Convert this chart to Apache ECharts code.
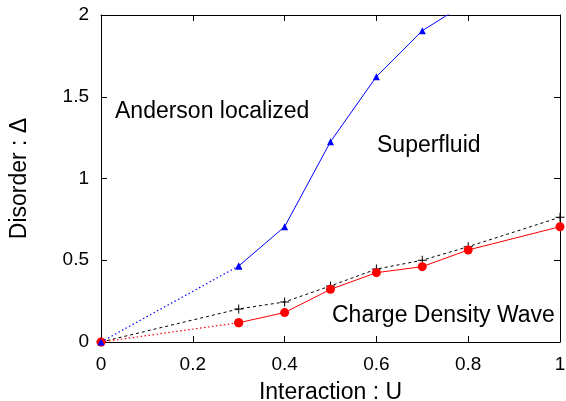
<!DOCTYPE html>
<html>
<head>
<meta charset="utf-8">
<script src="https://cdn.jsdelivr.net/npm/echarts@6/dist/echarts.min.js"></script>
<style>html,body{margin:0;padding:0;background:#fff}#c{width:566px;height:401px}</style>
</head>
<body>
<div id="c"></div>
<script>
// Interaction U values
var uOrigin = [0];
var uBlue = [0.3, 0.4, 0.5, 0.6, 0.7, 0.8];
var deltaBlue = [0.465, 0.705, 1.225, 1.623, 1.904, 2.08];
var uRed = [0.3, 0.4, 0.5, 0.6, 0.7, 0.8, 1.0];
var deltaRed = [0.118, 0.18, 0.322, 0.424, 0.461, 0.563, 0.705];
var uBlack = [0, 0.3, 0.4, 0.5, 0.6, 0.7, 0.8, 1.0];
var deltaBlack = [0, 0.202, 0.245, 0.343, 0.446, 0.50, 0.583, 0.763];
var xTicks = ['0', '0.2', '0.4', '0.6', '0.8', '1'];
var yTicks = ['0', '0.5', '1', '1.5', '2'];
var labels = ['Anderson localized', 'Superfluid', 'Charge Density Wave'];

function pairs(xs, ys) { return xs.map(function (x, i) { return [x, ys[i]]; }); }

var FONT = '"Liberation Sans", Arial, Helvetica, sans-serif';
var plusPath = 'path://M4,0h1v9h-1z M0,4h9v1h-9z';

var chart = echarts.init(document.getElementById('c'), null, {renderer: 'canvas'});

var axisCommon = {
  axisLine: {show: true, onZero: false, lineStyle: {color: '#000', width: 1}},
  axisTick: {show: true, inside: true, length: 6, lineStyle: {color: '#000', width: 1}},
  splitLine: {show: false}
};

function xFmt(v) { var i = Math.round(v / 0.2); return xTicks[i] !== undefined ? xTicks[i] : ''; }
function yFmt(v) { var i = Math.round(v / 0.5); return yTicks[i] !== undefined ? yTicks[i] : ''; }

chart.setOption({
  animation: false,
  backgroundColor: '#fff',
  textStyle: {fontFamily: FONT},
  grid: {left: 101, right: 6, top: 15, bottom: 59, containLabel: false, outerBoundsMode: 'none'},
  xAxis: [
    Object.assign({}, axisCommon, {
      type: 'value', min: 0, max: 1, interval: 0.2, position: 'bottom',
      name: 'Interaction : U', nameLocation: 'middle', nameGap: 39,
      nameTextStyle: {fontSize: 23, color: '#000', fontFamily: FONT},
      axisLabel: {show: true, margin: 13, fontSize: 19, color: '#000', fontFamily: FONT, formatter: xFmt}
    }),
    Object.assign({}, axisCommon, {
      type: 'value', min: 0, max: 1, interval: 0.2, position: 'top',
      axisLabel: {show: false}
    })
  ],
  yAxis: [
    Object.assign({}, axisCommon, {
      type: 'value', min: 0, max: 2, interval: 0.5, position: 'left',
      name: 'Disorder : \u0394', nameLocation: 'middle', nameGap: 70,
      nameTextStyle: {fontSize: 23, color: '#000', fontFamily: FONT},
      axisLabel: {show: true, margin: 12, fontSize: 19, color: '#000', fontFamily: FONT, formatter: yFmt}
    }),
    Object.assign({}, axisCommon, {
      type: 'value', min: 0, max: 2, interval: 0.5, position: 'right',
      axisLabel: {show: false}
    })
  ],
  series: [
    {
      type: 'line', name: 'black', xAxisIndex: 0, yAxisIndex: 0,
      data: pairs(uBlack, deltaBlack),
      symbol: plusPath, symbolSize: 9,
      itemStyle: {color: '#000'},
      lineStyle: {color: '#000', width: 1, type: [3, 3]},
      z: 2
    },
    {
      type: 'line', name: 'redDotted',
      data: pairs(uOrigin.concat([uRed[0]]), [0, deltaRed[0]]),
      symbol: 'circle', symbolSize: 9, showSymbol: true,
      itemStyle: {color: '#ff0000'},
      lineStyle: {color: '#ff0000', width: 1.2, type: [1.5, 2.5]},
      z: 3
    },
    {
      type: 'line', name: 'red',
      data: pairs(uRed, deltaRed),
      symbol: 'circle', symbolSize: 9,
      itemStyle: {color: '#ff0000'},
      lineStyle: {color: '#ff0000', width: 1},
      z: 3
    },
    {
      type: 'line', name: 'blueDotted',
      data: pairs(uOrigin.concat([uBlue[0]]), [0, deltaBlue[0]]),
      symbol: 'triangle', symbolSize: 7,
      itemStyle: {color: '#0000ff'},
      lineStyle: {color: '#0000ff', width: 1.2, type: [1.5, 2.5]},
      z: 4
    },
    {
      type: 'line', name: 'blue',
      data: pairs(uBlue, deltaBlue),
      symbol: 'triangle', symbolSize: 7,
      itemStyle: {color: '#0000ff'},
      lineStyle: {color: '#0000ff', width: 1},
      clip: true,
      z: 4
    }
  ],
  graphic: [
    {type: 'text', x: 115, y: 112, style: {text: labels[0], font: '23px ' + FONT, fill: '#000', verticalAlign: 'middle', align: 'left'}},
    {type: 'text', x: 377, y: 146, style: {text: labels[1], font: '23px ' + FONT, fill: '#000', verticalAlign: 'middle', align: 'left'}},
    {type: 'text', x: 332, y: 316, style: {text: labels[2], font: '23px ' + FONT, fill: '#000', verticalAlign: 'middle', align: 'left'}}
  ]
});
</script>
</body>
</html>
